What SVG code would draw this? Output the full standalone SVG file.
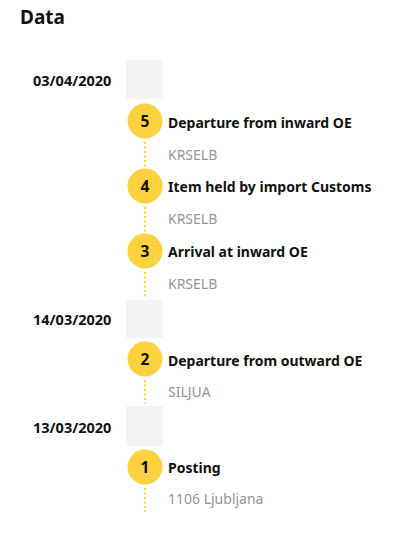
<svg xmlns="http://www.w3.org/2000/svg" width="420" height="546" viewBox="0 0 420 546">
<style>
text{font-family:"Noto Sans","Open Sans","Liberation Sans",sans-serif}
.h{font-size:19px;font-weight:700;fill:#111}
.d{font-size:14.5px;font-weight:700;fill:#111}
.t{font-size:14px;font-weight:700;fill:#111}
.s{font-size:14px;fill:#959595}
.n{font-size:15.5px;font-weight:700;fill:#111;text-anchor:middle}
.box{fill:#f5f5f5}
.c{fill:#fdd23e}
.dot{stroke:#fdd23e;stroke-width:2;stroke-dasharray:2 2.5;fill:none}
</style>
<rect width="420" height="546" fill="#fff"/>
<text class="h" x="20" y="24">Data</text>
<g id="connectors">
<line class="dot" x1="145" y1="142" x2="145" y2="167"/>
<line class="dot" x1="145" y1="207" x2="145" y2="232"/>
<line class="dot" x1="145" y1="272" x2="145" y2="297"/>
<line class="dot" x1="145" y1="380" x2="145" y2="404"/>
<line class="dot" x1="145" y1="488" x2="145" y2="512"/>
</g>
<g id="date1"><rect class="box" x="126" y="60" width="37" height="39"/><text class="d" x="33" y="86">03/04/2020</text></g>
<g id="event5"><circle class="c" cx="145" cy="121" r="17.5"/><text class="n" x="145" y="127">5</text><text class="t" x="168" y="128">Departure from inward OE</text><text class="s" x="168" y="160">KRSELB</text></g>
<g id="event4"><circle class="c" cx="145" cy="186" r="17.5"/><text class="n" x="145" y="192">4</text><text class="t" x="168" y="192">Item held by import Customs</text><text class="s" x="168" y="224">KRSELB</text></g>
<g id="event3"><circle class="c" cx="145" cy="251" r="17.5"/><text class="n" x="145" y="257">3</text><text class="t" x="168" y="257">Arrival at inward OE</text><text class="s" x="168" y="289">KRSELB</text></g>
<g id="date2"><rect class="box" x="126" y="300" width="37" height="38"/><text class="d" x="33" y="325">14/03/2020</text></g>
<g id="event2"><circle class="c" cx="145" cy="359" r="17.5"/><text class="n" x="145" y="365">2</text><text class="t" x="168" y="366">Departure from outward OE</text><text class="s" x="168" y="397">SILJUA</text></g>
<g id="date3"><rect class="box" x="126" y="406" width="37" height="40"/><text class="d" x="33" y="433">13/03/2020</text></g>
<g id="event1"><circle class="c" cx="145" cy="467" r="17.5"/><text class="n" x="145" y="473">1</text><text class="t" x="168" y="473">Posting</text><text class="s" x="168" y="504">1106 Ljubljana</text></g>
</svg>
